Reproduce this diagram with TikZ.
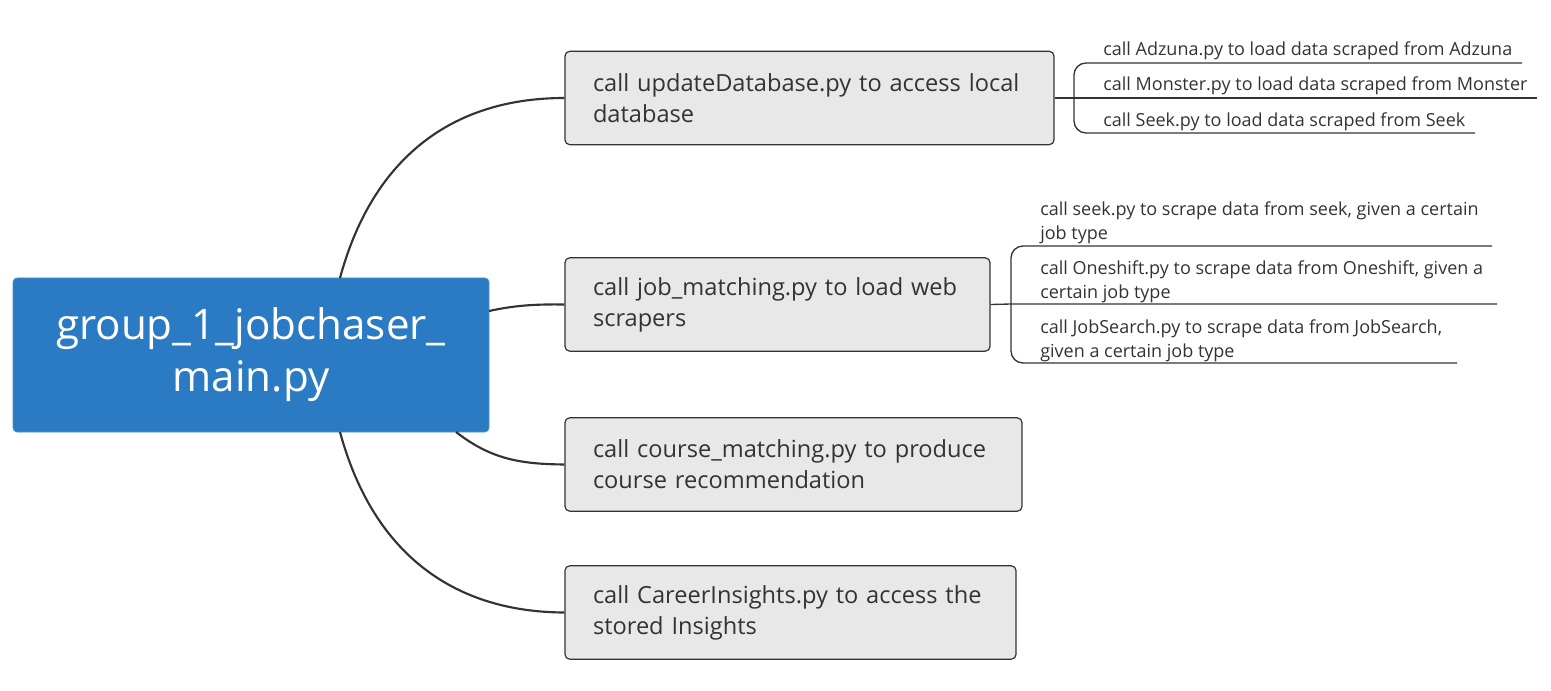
\documentclass[tikz,border=0pt]{standalone}
\usepackage{fontspec}
\setmainfont{Open Sans}
\definecolor{rootblue}{HTML}{2B7BC4}
\definecolor{boxfill}{HTML}{E8E8E8}
\definecolor{ink}{HTML}{333333}
\begin{document}
\begin{tikzpicture}[x=0.75pt,y=-0.75pt,
  rootbox/.style={fill=rootblue,draw=rootblue!85!white,rounded corners=3pt,minimum width=357pt,minimum height=115.5pt,inner sep=0pt,align=center,text=white,font=\fontsize{31.6}{39}\selectfont},
  childbox/.style={fill=boxfill,draw=ink,line width=0.9pt,rounded corners=3.5pt,minimum height=70pt,inner xsep=21pt,inner ysep=0pt,align=left,text=ink,font=\fontsize{17.7}{23.2}\selectfont},
  leaftext/.style={anchor=west,inner sep=0pt,align=left,text=ink,font=\fontsize{13.5}{17.7}\selectfont},
  mainlink/.style={draw=ink,line width=1.6pt},
  leaflink/.style={draw=ink,line width=1pt}
]
\useasboundingbox (0,0) rectangle (1551,691);
\node[rootbox] (root) at (251,355) {group\_1\_jobchaser\_\\main.py};
\node[childbox,text width=324.75pt] (c1) at (809.5,98) {call updateDatabase.py to access local\\database};
\node[childbox,text width=276.75pt] (c2) at (777.5,304.5) {call job\_matching.py to load web\\scrapers};
\node[childbox,text width=300.75pt] (c3) at (793.5,464.5) {call course\_matching.py to produce\\course recommendation};
\node[childbox,text width=296.25pt] (c4) at (790.5,612.5) {call CareerInsights.py to access the\\stored Insights};
% main links
\coordinate (r1) at (340,278);
\coordinate (r2) at (489,311);
\coordinate (r3) at (456,432);
\coordinate (r4) at (340,432);
\path[mainlink] (r1) .. controls (372,160) and (450,98) .. (c1.west);
\path[mainlink] (r2) .. controls (512,306) and (532,304) .. (c2.west);
\path[mainlink] (r3) .. controls (492,460) and (522,464) .. (c3.west);
\path[mainlink] (r4) .. controls (372,550) and (450,612) .. (c4.west);
% leaves group 1
\node[leaftext] (a1) at (1103,51) {call Adzuna.py to load data scraped from Adzuna};
\node[leaftext] (a2) at (1103,86) {call Monster.py to load data scraped from Monster};
\node[leaftext] (a3) at (1103,122) {call Seek.py to load data scraped from Seek};
\coordinate (j1) at (1074,98);
\coordinate (e11) at (1522,63);
\coordinate (e12) at (1537,98);
\coordinate (e13) at (1475,133);
\path[leaflink] (c1.east) -- (j1) -- (e12);
\path[leaflink,rounded corners=9pt] (e11) -- (1074,63) -- (1074,133) -- (e13);
% leaves group 2
\node[leaftext] (b1) at (1040,223) {call seek.py to scrape data from seek, given a certain\\job type};
\node[leaftext] (b2) at (1040,281.5) {call Oneshift.py to scrape data from Oneshift, given a\\certain job type};
\node[leaftext] (b3) at (1040,340.5) {call JobSearch.py to scrape data from JobSearch,\\given a certain job type};
\coordinate (j2) at (1011,304);
\coordinate (e21) at (1492,246);
\coordinate (e22) at (1497,304);
\coordinate (e23) at (1457,363);
\path[leaflink] (c2.east) -- (j2) -- (e22);
\path[leaflink,rounded corners=9pt] (e21) -- (1011,246) -- (1011,363) -- (e23);
\end{tikzpicture}
\end{document}
